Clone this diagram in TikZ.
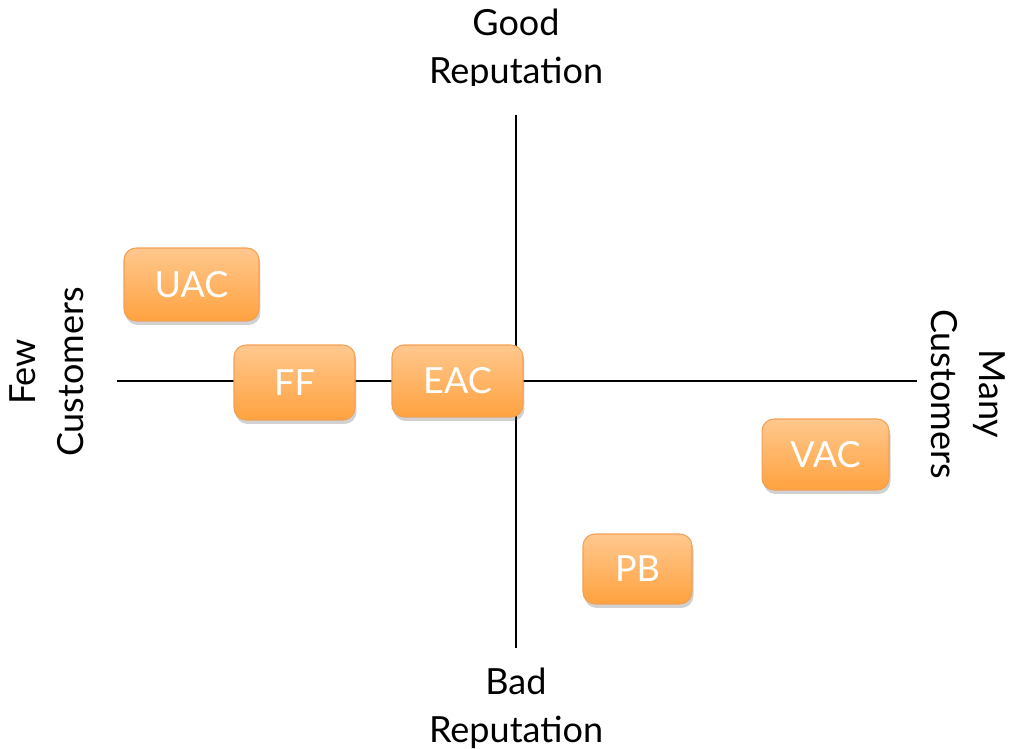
\documentclass[tikz,border=0pt]{standalone}
\usepackage{fontspec}
\setmainfont{Lato}
\usetikzlibrary{shadows}
\definecolor{boxtop}{HTML}{FFC88E}
\definecolor{boxbot}{HTML}{FFA23F}
\definecolor{boxedge}{HTML}{F2A055}
\begin{document}
\begin{tikzpicture}[x=0.02cm,y=-0.02cm,
  box/.style={rounded corners=0.24cm, draw=boxedge, line width=0.6pt,
    top color=boxtop, bottom color=boxbot, text=white, inner sep=0pt,
    font=\fontsize{20.5}{24}\selectfont,
    drop shadow={opacity=0.3, shadow xshift=0.03cm, shadow yshift=-0.08cm, fill=black!60}},
  lbl/.style={font=\fontsize{20.5}{27.3}\selectfont, align=center, text=black},
  axis/.style={line width=1.2pt, black}]
\useasboundingbox (0,0) rectangle (1016,749);
\clip (0,0) rectangle (1016,749);
% axes
\coordinate (xl) at (117,381);
\coordinate (xr) at (917,381);
\coordinate (yt) at (516,115);
\coordinate (yb) at (516,648);
\draw[axis] (xl) -- (xr);
\draw[axis] (yt) -- (yb);
% labels
\begin{scope}
  \clip (300,0) rectangle (720,86);
  \node[lbl] (good) at (516,49) {Good\\Reputation};
\end{scope}
\node[lbl] (bad) at (516,708) {Bad\\Reputation};
\node[lbl, rotate=90] (few) at (47,372) {Few\\Customers};
\node[lbl, rotate=-90] (many) at (968,394) {Many\\Customers};
% boxes
\node[box, minimum width=2.7cm, minimum height=1.46cm] (uac) at (191.5,284.5) {UAC};
\node[box, minimum width=2.42cm, minimum height=1.5cm] (ff) at (294.5,382.5) {FF};
\node[box, minimum width=2.62cm, minimum height=1.44cm] (eac) at (457.5,381) {EAC};
\node[box, minimum width=2.54cm, minimum height=1.42cm] (vac) at (825.5,454.5) {VAC};
\node[box, minimum width=2.18cm, minimum height=1.4cm] (pb) at (637.5,569) {PB};
\end{tikzpicture}
\end{document}
